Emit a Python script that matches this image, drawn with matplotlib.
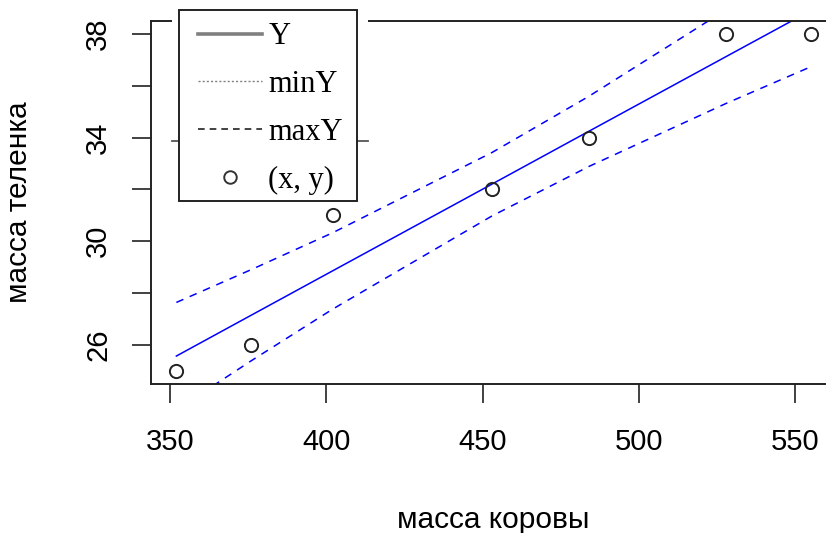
import numpy as np
import matplotlib.pyplot as plt
from matplotlib.lines import Line2D
from matplotlib.patches import Rectangle

# масса коровы / масса теленка
x = np.array([352, 376, 402, 453, 484, 528, 555])
y = np.array([25, 26, 31, 32, 34, 38, 38])

# regression line and its band, read at the x points
Y = np.array([25.56, 27.14, 28.85, 32.20, 34.24, 37.13, 38.90])
minY = np.array([23.48, 25.38, 27.37, 30.97, 32.88, 35.32, 36.73])
maxY = np.array([27.63, 28.90, 30.32, 33.42, 35.59, 38.94, 41.08])

xticks = [350, 400, 450, 500, 550]
yticks = [26, 28, 30, 32, 34, 36, 38]
ylabels = ['26', '', '30', '', '34', '', '38']

W, H = 826, 533
fig = plt.figure(figsize=(W / 100, H / 100), dpi=100)
ax = fig.add_axes([151 / W, 1 - 384 / H, 685 / W, 363.5 / H])

blue = '#0000ff'
ax.plot(x, Y, color=blue, lw=1.1)
ax.plot(x, minY, color=blue, lw=1.1, dashes=(5, 4.5))
ax.plot(x, maxY, color=blue, lw=1.1, dashes=(5, 4.5))
ax.plot(x, y, 'o', mfc='none', mec='#222222', mew=1.4, ms=9.5)

pad = 0.04 * (x.max() - x.min())
ax.set_xlim(x.min() - pad, x.max() + pad)
pad = 0.04 * (y.max() - y.min())
ax.set_ylim(y.min() - pad, y.max() + pad)

sans = ['Liberation Sans', 'DejaVu Sans']
ax.set_xticks(xticks)
ax.set_xticklabels([str(t) for t in xticks], fontsize=21, family=sans)
ax.set_yticks(yticks)
ax.set_yticklabels(ylabels, fontsize=21, family=sans, rotation=90, va='center')
ax.tick_params(length=14, width=1.3, color='#333333')
ax.tick_params(axis='x', pad=18)
ax.tick_params(axis='y', pad=14)
for s in ax.spines.values():
    s.set_linewidth(1.4)
    s.set_color('#222222')

ax.set_xlabel('масса коровы', fontsize=21.5, family=sans, labelpad=36)
ax.set_ylabel('масса теленка', fontsize=21.5, family=sans, labelpad=37)

# white patch and stray gray line behind the legend
ax.add_patch(Rectangle((172 / W, 1 - 203 / H), 196 / W, 203 / H,
                       transform=fig.transFigure, fc='white', ec='none',
                       zorder=3, clip_on=False))
ax.add_line(Line2D([172 / W, 368 / W], [1 - 141 / H, 1 - 141 / H],
                   transform=fig.transFigure, color='#555555', lw=1.3,
                   zorder=3.1, clip_on=False))
# legend frame
ax.add_patch(Rectangle((179 / W, 1 - 201 / H), 178 / W, 191 / H,
                       transform=fig.transFigure, fc='white', ec='#222222',
                       lw=1.4, zorder=4.9, clip_on=False))

handles = [
    Line2D([], [], color='#808080', lw=2.6),
    Line2D([], [], color='#808080', lw=1.0, ls=(0, (1.5, 1.5))),
    Line2D([], [], color='#222222', lw=1.2, ls=(0, (4, 3))),
    Line2D([], [], color='#333333', marker='o', ls='none', mfc='none', mew=1.4, ms=9),
]
leg = ax.legend(handles, ['Y', 'minY', 'maxY', '(x, y)'],
                loc='upper left', bbox_to_anchor=(186 / W, 1 - 10 / H),
                bbox_transform=fig.transFigure, borderaxespad=0,
                prop={'family': ['Liberation Serif', 'DejaVu Serif'], 'size': 22},
                frameon=False, borderpad=0.4, handlelength=2.1,
                handletextpad=0.2, labelspacing=0.62)
leg.set_zorder(5)

fig.savefig('out.png', dpi=100)
